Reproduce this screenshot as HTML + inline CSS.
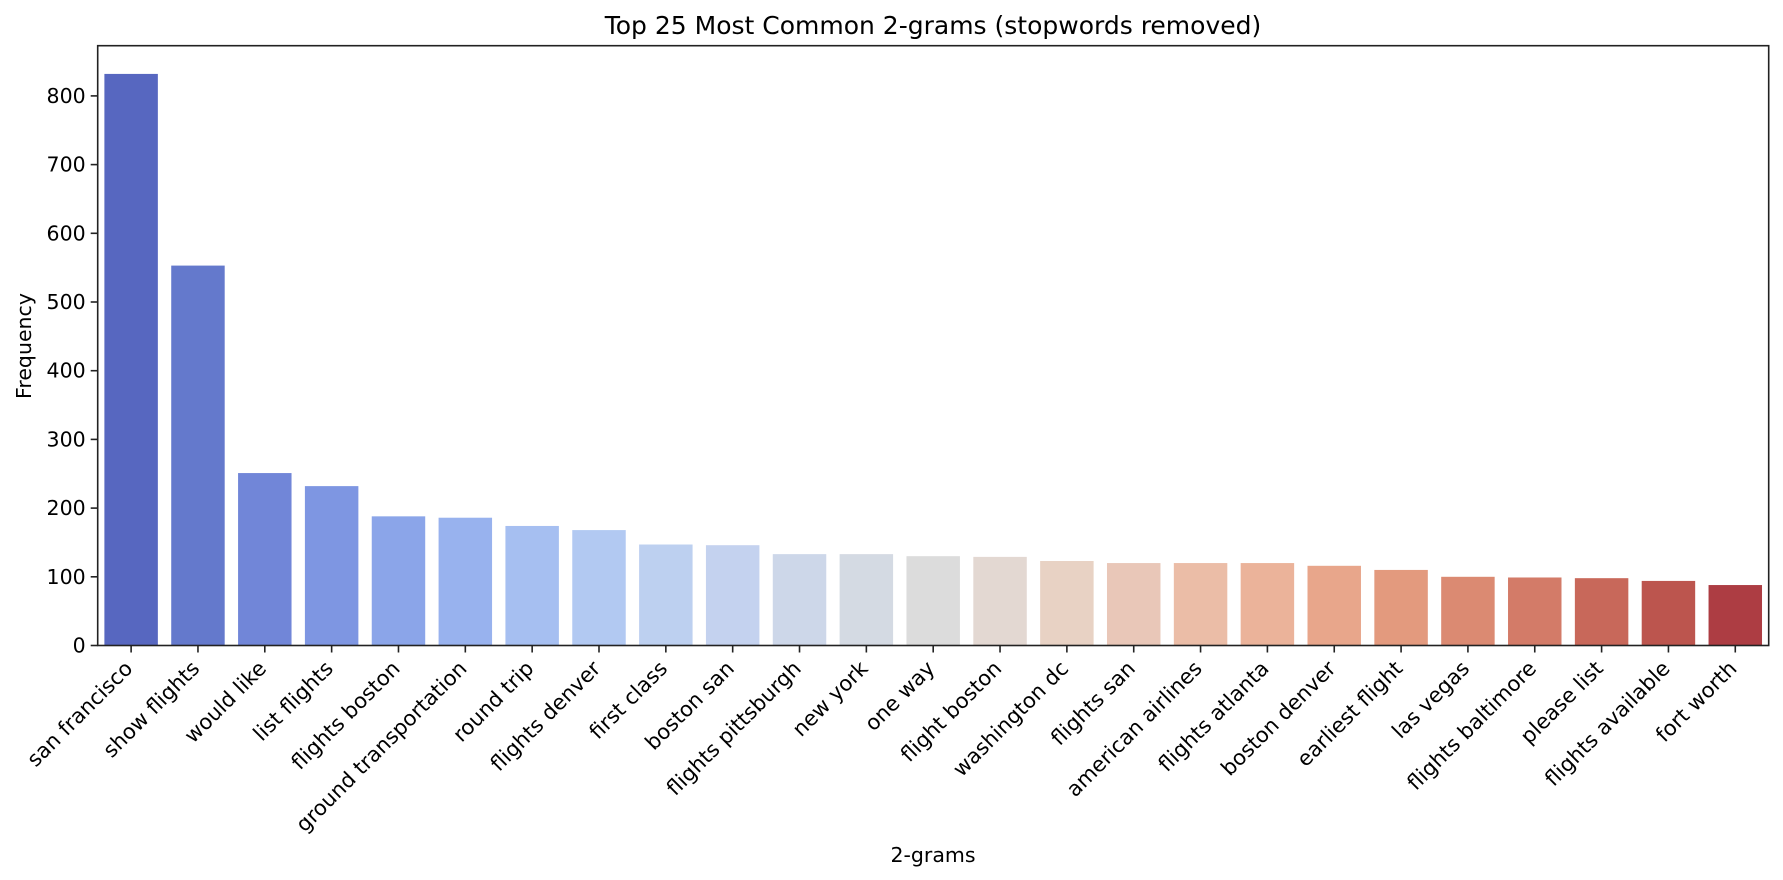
<!DOCTYPE html>
<html><head><meta charset="utf-8"><style>
html,body{margin:0;padding:0;background:#fff;}
svg{display:block;font-family:"DejaVu Sans","Liberation Sans",sans-serif;}
</style></head><body>
<svg id="chart" width="1783" height="880" viewBox="0 0 1783 880" xmlns="http://www.w3.org/2000/svg">
<text x="933" y="34" font-size="25" text-anchor="middle" fill="#000">Top 25 Most Common 2-grams (stopwords removed)</text>
<text x="0" y="0" font-size="20.5" text-anchor="middle" fill="#000" transform="translate(31,346) rotate(-90)">Frequency</text>
<text x="933" y="862" font-size="20.5" text-anchor="middle" fill="#000">2-grams</text>
<g id="bars"></g>
<g id="yaxis"></g>
<g id="xaxis"></g>
<rect x="97.7" y="45.7" width="1671" height="599.8" fill="none" stroke="#222" stroke-width="1.6"/>
</svg>
<script>
const categories = ["san francisco","show flights","would like","list flights","flights boston","ground transportation","round trip","flights denver","first class","boston san","flights pittsburgh","new york","one way","flight boston","washington dc","flights san","american airlines","flights atlanta","boston denver","earliest flight","las vegas","flights baltimore","please list","flights available","fort worth"];
const values = [832,553,251,232,188,186,174,168,147,146,133,133,130,129,123,120,120,120,116,110,100,99,98,94,88];
const colors = ["#5767c0","#6479cc","#7186d8","#7e96e2","#8ba5e9","#98b2ee","#a6bff1","#b2c9f2","#bdd0f0","#c4d2ef","#cdd7e9","#d4dae3","#dcdcdc","#e3d8d2","#e8d2c4","#e9c7b8","#ebbda7","#ebb39a","#e8a68b","#e39a7e","#db8a72","#d37b68","#c8685a","#bc554e","#ad3d43"];
const yTicks = [0,100,200,300,400,500,600,700,800];

const NS = "http://www.w3.org/2000/svg";
const L = 97.7, R = 1768.7, B = 645.5, PER100 = 68.7;
const slot = (R - L) / categories.length;
function xCenter(i){ return L + slot * (i + 0.5); }
function yPos(v){ return B - v * PER100 / 100; }

const bars = document.getElementById('bars');
const xaxis = document.getElementById('xaxis');
const yaxis = document.getElementById('yaxis');
categories.forEach((c, i) => {
  const w = slot * 0.8;
  const r = document.createElementNS(NS, 'rect');
  
  
  r.setAttribute('x', xCenter(i) - w / 2);
  r.setAttribute('y', yPos(values[i]));
  r.setAttribute('width', w);
  r.setAttribute('height', B - yPos(values[i]));
  r.setAttribute('fill', colors[i]);
  bars.appendChild(r);

  const t = document.createElementNS(NS, 'line');
  
  
  t.setAttribute('x1', xCenter(i)); t.setAttribute('x2', xCenter(i));
  t.setAttribute('y1', B); t.setAttribute('y2', B + 7);
  t.setAttribute('stroke', '#222'); t.setAttribute('stroke-width', '1.6');
  xaxis.appendChild(t);

  const lab = document.createElementNS(NS, 'text');
  
  
  const ax = xCenter(i) - 8, ay = 659;
  lab.setAttribute('x', ax); lab.setAttribute('y', ay);
  lab.setAttribute('font-size', '21');
  lab.setAttribute('text-anchor', 'end');
  lab.setAttribute('dominant-baseline', 'hanging');
  lab.setAttribute('transform', 'rotate(-45 ' + ax + ' ' + ay + ')');
  lab.textContent = c;
  xaxis.appendChild(lab);
});
yTicks.forEach(v => {
  const t = document.createElementNS(NS, 'line');
  
  
  t.setAttribute('x1', L - 7); t.setAttribute('x2', L);
  t.setAttribute('y1', yPos(v)); t.setAttribute('y2', yPos(v));
  t.setAttribute('stroke', '#222'); t.setAttribute('stroke-width', '1.6');
  yaxis.appendChild(t);
  const lab = document.createElementNS(NS, 'text');
  
  
  lab.setAttribute('x', L - 12); lab.setAttribute('y', yPos(v) + 7);
  lab.setAttribute('font-size', '20.5');
  lab.setAttribute('text-anchor', 'end');
  lab.textContent = v;
  yaxis.appendChild(lab);
});
</script>
</body></html>
